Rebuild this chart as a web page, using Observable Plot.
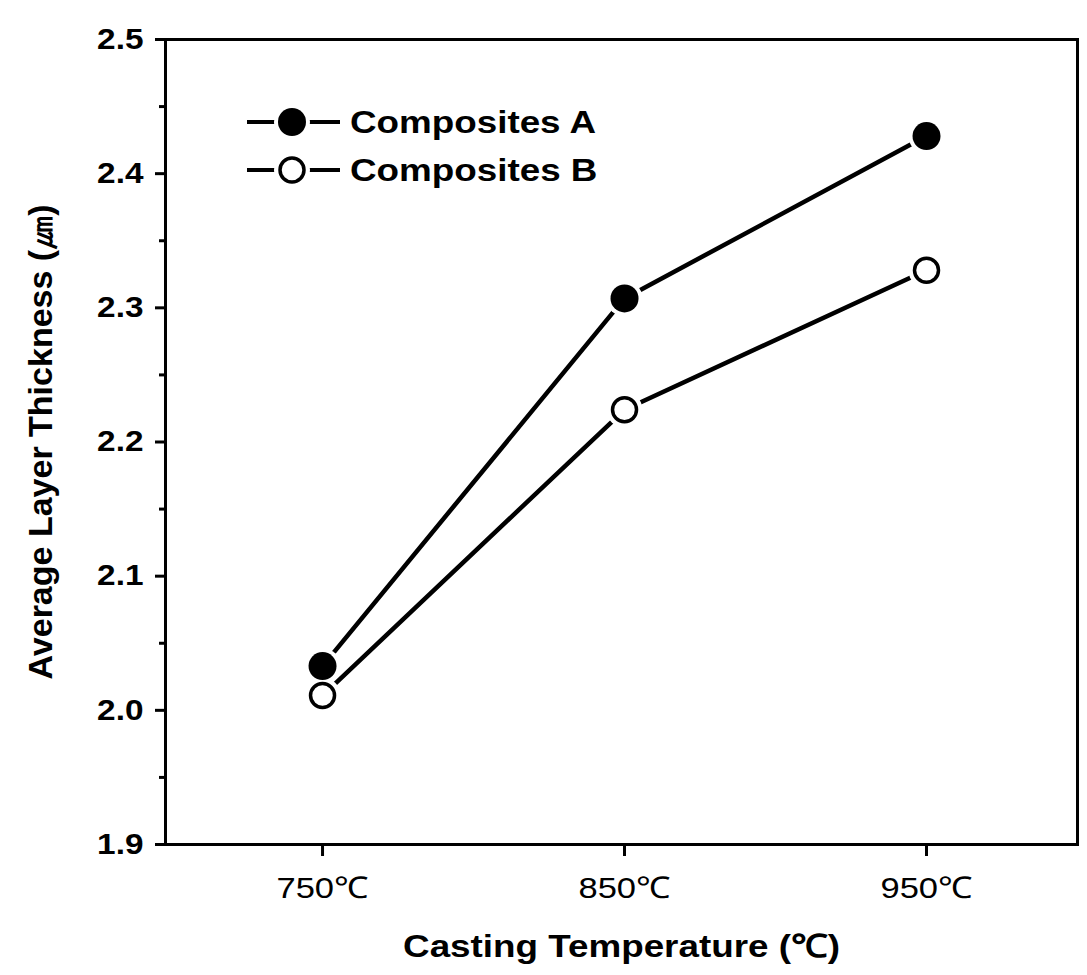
<!DOCTYPE html>
<html>
<head>
<meta charset="utf-8">
<script src="https://cdn.jsdelivr.net/npm/d3@7"></script>
<script src="https://cdn.jsdelivr.net/npm/@observablehq/plot@0.6"></script>
<style>
  body { margin: 0; background: #fff; }
  #chart { width: 1087px; height: 975px; }
</style>
</head>
<body>
<div id="chart"></div>
<script>
const temperatures = [750, 850, 950];
const compositesA = [2.033, 2.307, 2.428];
const compositesB = [2.011, 2.224, 2.328];
const seriesNames = ["Composites A", "Composites B"];
const yTicks = [1.9, 2.0, 2.1, 2.2, 2.3, 2.4, 2.5];
const yMinorTicks = [1.95, 2.05, 2.15, 2.25, 2.35, 2.45];
const xLabel = "Casting Temperature (℃)";
const yLabel = "Average Layer Thickness (㎛)";

const rows = [];
temperatures.forEach((t, i) => {
  rows.push({series: seriesNames[0], t, v: compositesA[i]});
  rows.push({series: seriesNames[1], t, v: compositesB[i]});
});
const rowsA = rows.filter(d => d.series === seriesNames[0]);
const rowsB = rows.filter(d => d.series === seriesNames[1]);

const FONT = "'Liberation Sans', Arial, Helvetica, sans-serif";

const svg = Plot.plot({
  width: 1087,
  height: 975,
  marginTop: 39,
  marginBottom: 131,
  marginLeft: 165,
  marginRight: 10,
  style: {fontFamily: FONT, background: "#fff", color: "#000"},
  x: {type: "linear", domain: [698, 1000]},
  y: {domain: [1.9, 2.5]},
  marks: [
    Plot.axisX({
      ticks: temperatures, tickFormat: d => d + "℃", tickSize: 12, tickPadding: 20,
      strokeWidth: 3, fontSize: 30,
      label: xLabel, labelAnchor: "center", labelOffset: 112, labelArrow: "none"
    }),
    Plot.axisY({
      ticks: yTicks, tickFormat: d => d.toFixed(1), tickSize: 10, tickPadding: 12,
      strokeWidth: 3, fontSize: 29, fontWeight: "bold",
      label: yLabel, labelAnchor: "center", labelOffset: 138, labelArrow: "none"
    }),
    Plot.axisY({ticks: yMinorTicks, tickSize: 6, strokeWidth: 3, tickFormat: () => "", label: null}),
    Plot.frame({stroke: "#000", strokeWidth: 3}),
    Plot.line(rows, {x: "t", y: "v", z: "series", stroke: "#000", strokeWidth: 4.5}),
    Plot.dot(rows, {x: "t", y: "v", r: 18, fill: "#fff", stroke: "none"}),
    Plot.dot(rowsA, {x: "t", y: "v", r: 14, fill: "#000", stroke: "none"}),
    Plot.dot(rowsB, {x: "t", y: "v", r: 12, fill: "#fff", stroke: "#000", strokeWidth: 3.5})
  ]
});

document.getElementById("chart").appendChild(svg);

const root = d3.select(svg);
root.selectAll("[aria-label='x-axis label'] text")
  .attr("font-size", 32).attr("font-weight", "bold");
root.selectAll("[aria-label='y-axis label'] text")
  .attr("font-size", 34).attr("font-weight", "bold");

// legend (layout positions)
const legendRows = [
  {name: seriesNames[0], filled: true, y: 122},
  {name: seriesNames[1], filled: false, y: 170}
];
const lg = root.append("g").attr("aria-label", "legend");
legendRows.forEach(r => {
  lg.append("line").attr("x1", 247).attr("x2", 340).attr("y1", r.y).attr("y2", r.y)
    .attr("stroke", "#000").attr("stroke-width", 4);
  lg.append("circle").attr("cx", 292).attr("cy", r.y).attr("r", 18).attr("fill", "#fff");
  if (r.filled) {
    lg.append("circle").attr("cx", 292).attr("cy", r.y).attr("r", 14).attr("fill", "#000");
  } else {
    lg.append("circle").attr("cx", 292).attr("cy", r.y).attr("r", 12).attr("fill", "#fff")
      .attr("stroke", "#000").attr("stroke-width", 3.5);
  }
  lg.append("text").attr("x", 350).attr("y", r.y + 11).attr("font-family", FONT)
    .attr("text-anchor", "start")
    .attr("font-size", 32).attr("font-weight", "bold").attr("fill", "#000").text(r.name);
});

// horizontal stretch of the original scan
root.selectAll("text").each(function() {
  const t = this.getAttribute("transform") || "";
  const pt = this.parentNode && this.parentNode.getAttribute ? (this.parentNode.getAttribute("transform") || "") : "";
  if (t.includes("rotate") || pt.includes("rotate")) return;
  const len = this.getComputedTextLength();
  if (len > 0) {
    this.setAttribute("textLength", (len * 1.15).toFixed(1));
    this.setAttribute("lengthAdjust", "spacingAndGlyphs");
  }
});
</script>
</body>
</html>
